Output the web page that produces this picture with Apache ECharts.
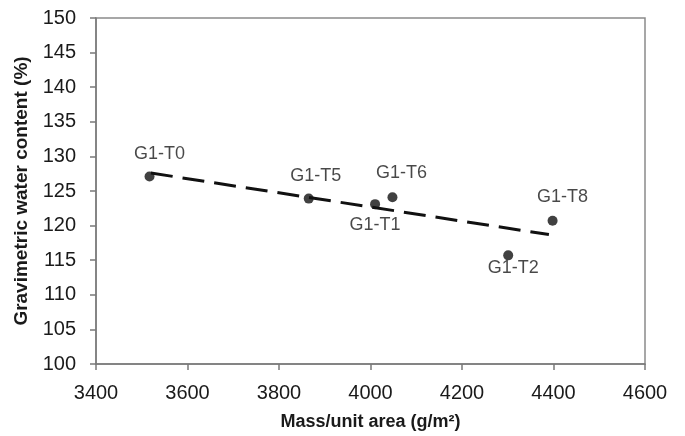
<!DOCTYPE html>
<html><head><meta charset="utf-8">
<script src="https://cdn.jsdelivr.net/npm/echarts@6/dist/echarts.min.js"></script>
<style>html,body{margin:0;padding:0;background:#fff}#c{width:685px;height:436px}</style>
</head><body><div id="c"></div>
<script>
var labels = ['G1-T0','G1-T5','G1-T1','G1-T6','G1-T8','G1-T2'];
var massValues = [3517, 3865, 4010, 4048, 4398, 4301];
var waterValues = [127.1, 123.9, 123.1, 124.1, 120.7, 115.7];
var labelSide = ['top','top','bottom','top','top','bottom'];
var labelDist = [8, 9, 7, 10, 10, -1];
var labelShift = [10, 7, 0, 9, 10, 5];
var trendX = [3520, 4390];
var trendY = [127.6, 118.7];
var xTicks = {min: 3400, max: 4600, interval: 200};
var yTicks = {min: 100, max: 150, interval: 5};

var font = 'Liberation Sans, Arial, sans-serif';
var pts = labels.map(function(l, i){
  return {value: [massValues[i], waterValues[i]], name: l,
    label: {position: labelSide[i], distance: labelDist[i], offset: [labelShift[i], 0]}};
});
var chart = echarts.init(document.getElementById('c'));
chart.setOption({
  animation: false,
  grid: {left: 96, top: 18, right: 40, bottom: 70, show: true, borderColor: '#8a8a8a', borderWidth: 1.5},
  xAxis: {type: 'value', min: xTicks.min, max: xTicks.max, interval: xTicks.interval,
    name: 'Mass/unit area (g/m²)', nameLocation: 'middle', nameGap: 49,
    nameTextStyle: {fontFamily: font, fontSize: 18, fontWeight: 'bold', color: '#1a1a1a'},
    axisLine: {lineStyle: {color: '#7a7a7a', width: 1.5}},
    axisTick: {show: true, inside: false, length: 6, lineStyle: {color: '#7a7a7a', width: 1.5}},
    axisLabel: {fontFamily: font, fontSize: 20, color: '#1a1a1a', margin: 19,
      formatter: function(v){ return String(v); }},
    splitLine: {show: false}},
  yAxis: {type: 'value', min: yTicks.min, max: yTicks.max, interval: yTicks.interval,
    name: 'Gravimetric water content (%)', nameLocation: 'middle', nameGap: 63,
    nameTextStyle: {fontFamily: font, fontSize: 19, fontWeight: 'bold', color: '#1a1a1a'},
    axisLine: {show: true, lineStyle: {color: '#7a7a7a', width: 1.5}},
    axisTick: {show: true, inside: false, length: 6, lineStyle: {color: '#7a7a7a', width: 1.5}},
    axisLabel: {fontFamily: font, fontSize: 20, color: '#1a1a1a', margin: 20},
    splitLine: {show: false}},
  series: [
    {type: 'line', data: trendX.map(function(x, i){return [x, trendY[i]];}),
     symbol: 'none', lineStyle: {color: '#111', width: 3, type: [22, 10]}, z: 2, silent: true},
    {type: 'scatter', data: pts, symbol: 'circle', symbolSize: 10,
     itemStyle: {color: '#111'}, z: 3,
     label: {show: true, formatter: '{b}', fontFamily: font, fontSize: 18, color: '#1a1a1a'}}
  ]
});
</script></body></html>
